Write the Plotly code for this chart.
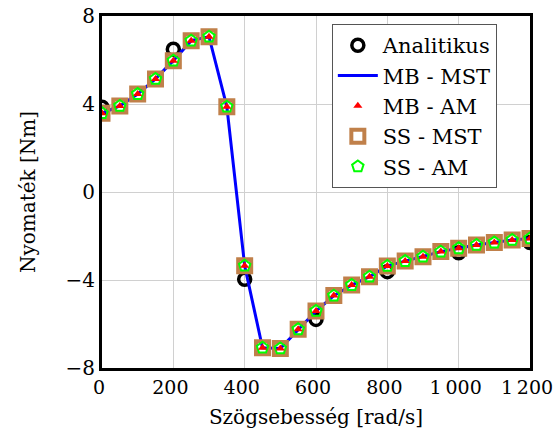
import plotly.graph_objects as go

omega = [0, 50, 100, 150, 200, 250, 300, 350, 400, 450, 500, 550, 600,
         650, 700, 750, 800, 850, 900, 950, 1000, 1050, 1100, 1150, 1200]
mb_mst = [3.58, 3.91, 4.45, 5.14, 5.97, 6.88, 7.06, 3.88, -3.35, -7.08, -7.11, -6.24, -5.41,
          -4.71, -4.23, -3.85, -3.36, -3.14, -2.94, -2.71, -2.56, -2.41, -2.30, -2.18, -2.11]
mb_am = list(mb_mst)
ss_mst = list(mb_mst)
ss_am = list(mb_mst)

omega_an = [0, 200, 400, 600, 800, 1000, 1200]
analitikus = [3.85, 6.49, -3.97, -5.79, -3.62, -2.76, -2.30]

x_tickvals = [0, 200, 400, 600, 800, 1000, 1200]
x_ticktext = ["0", "200", "400", "600", "800", "1\u2009000", "1\u2009200"]
y_tickvals = [-8, -4, 0, 4, 8]
y_ticktext = ["\u22128", "\u22124", "0", "4", "8"]

FONT = "DejaVu Serif"
FS = 20

fig = go.Figure()
fig.add_trace(go.Scatter(x=omega_an, y=analitikus, mode="markers", name="Analitikus",
                         legendrank=1,
                         marker=dict(symbol="circle-open", size=12, color="black",
                                     line=dict(width=3.5, color="black"))))
fig.add_trace(go.Scatter(x=omega, y=mb_mst, mode="lines", name="MB - MST", legendrank=2,
                         line=dict(color="#0000ff", width=3)))
fig.add_trace(go.Scatter(x=omega, y=ss_mst, mode="markers", name="SS - MST", legendrank=4,
                         marker=dict(symbol="square-open", size=13, color="#c0804a",
                                     line=dict(width=4, color="#c0804a"))))
fig.add_trace(go.Scatter(x=omega, y=ss_am, mode="markers", name="SS - AM", legendrank=5,
                         marker=dict(symbol="pentagon-open", size=12, color="#00ff00",
                                     line=dict(width=2, color="#00ff00"))))
fig.add_trace(go.Scatter(x=omega, y=mb_am, mode="markers", name="MB - AM", legendrank=3,
                         marker=dict(symbol="triangle-up", size=8, color="#ff0000",
                                     line=dict(width=0))))

fig.update_layout(
    width=555, height=437,
    margin=dict(l=102, r=25, t=16, b=69, autoexpand=False),
    paper_bgcolor="white", plot_bgcolor="white",
    font=dict(family=FONT, size=FS, color="black"),
    showlegend=True,
    legend=dict(x=0.537, y=0.977, xanchor="left", yanchor="top",
                bgcolor="white", bordercolor="#555555", borderwidth=1,
                font=dict(family=FONT, size=21), itemwidth=40,
                tracegroupgap=0),
    xaxis=dict(range=[0, 1200], tickvals=x_tickvals, ticktext=x_ticktext,
               showgrid=True, gridcolor="#d0d0d0", gridwidth=1,
               showline=True, linecolor="black", linewidth=3, mirror=True,
               ticks="", zeroline=False, automargin=False, ticklabeloverflow="allow",
               ticklabelshift=-3,
               tickfont=dict(family=FONT, size=19),
               title=dict(text="Szögsebesség [rad/s]", font=dict(family=FONT, size=FS), standoff=14)),
    yaxis=dict(range=[-8, 8], tickvals=y_tickvals, ticktext=y_ticktext,
               showgrid=True, gridcolor="#d0d0d0", gridwidth=1,
               showline=True, linecolor="black", linewidth=3, mirror=True,
               ticks="", zeroline=False, automargin=False, ticklabeloverflow="allow",
               tickfont=dict(family=FONT, size=FS),
               title=dict(text="Nyomaték [Nm]", font=dict(family=FONT, size=FS), standoff=25)),
)

fig.write_html("out.html", config={"displayModeBar": False},
               post_script="document.body.style.margin='0';")
